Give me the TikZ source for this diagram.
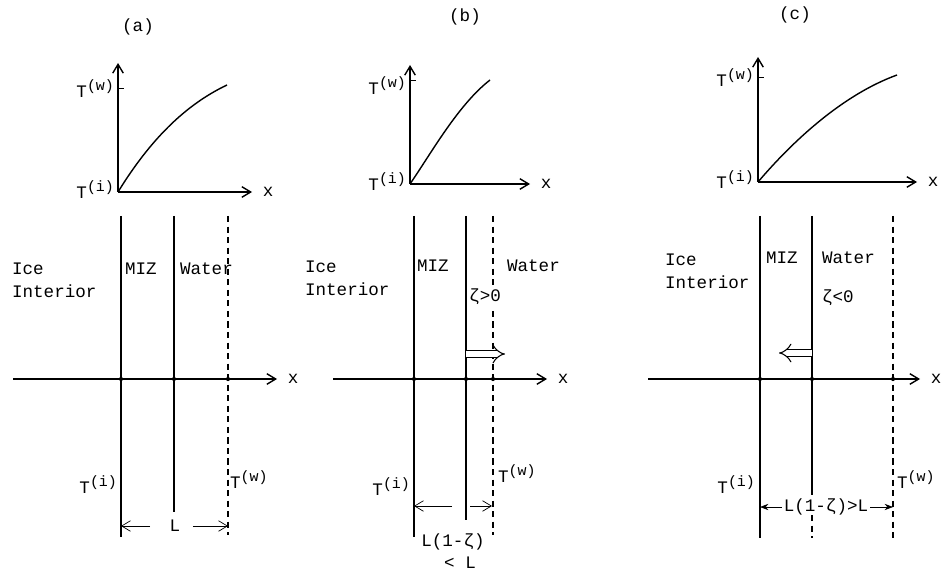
\documentclass[tikz,border=0pt]{standalone}
\usepackage{fontspec}
\setmainfont{Liberation Mono}
\usetikzlibrary{arrows.meta,positioning}
\newcommand{\Tsup}[1]{T\raisebox{0.75ex}{\fontsize{8.5}{9}\selectfont(#1)}}
\newcommand{\Tice}{\Tsup{i}}
\newcommand{\Twater}{\Tsup{w}}
\begin{document}
\begin{tikzpicture}[x=0.02cm,y=-0.02cm,>={Straight Barb[length=5pt,width=6pt]},
  font=\fontsize{10}{13}\selectfont,
  axis/.style={->,line width=0.8pt},
  wall/.style={line width=0.7pt},
  front/.style={line width=0.6pt,dash pattern=on 3.5pt off 2.5pt},
  curve/.style={line width=0.8pt},
  push/.style={double,double distance=3.2pt,line width=0.6pt,-{Implies[scale=1.4]}},
  lbl/.style={inner sep=1pt}]
  \useasboundingbox (0,0) rectangle (944,571);
  % (a)
  \node[lbl] (ta) at (138,27) {(a)};
  \coordinate (oa) at (118,192);
  \draw[axis] (oa) -- (118,63);
  \draw[axis] (oa) -- (252,192) coordinate (xa);
  \node[lbl,right=5pt of xa] (xla) {x};
  \draw[curve] (oa) .. controls (150,140) and (185,105) .. (227,85);
  \draw (118,88) -- (124,88);
  \node[lbl,anchor=east] (twa) at (116,89) {\Twater};
  \node[lbl,anchor=east] (tia) at (116,190) {\Tice};
  \draw[axis] (13,379) -- (277,379) coordinate (xa2);
  \node[lbl,right=5pt of xa2] (xla2) {x};
  \draw[wall] (121,216) -- (121,537);
  \draw[wall] (174,216) -- (174,512);
  \draw[front] (228,216) -- (228,535);
  \foreach \p in {121,174,228} \fill (\p,379) circle (1.2pt);
  \node[lbl,anchor=north west,align=left] (icea) at (10,261) {Ice\\Interior};
  \node[lbl,anchor=north west] (miza) at (123,261) {MIZ};
  \node[lbl,anchor=north west] (wata) at (178,261) {Water};
  \node[lbl,anchor=east] (tia2) at (119,485) {\Tice};
  \node[lbl,anchor=west] (twa2) at (228,480) {\Twater};
  \coordinate (la1) at (121,526);
  \coordinate (la3) at (228,526);
  \node[lbl] (La) at (175,526) {L};
  \draw[->,shorten <=10pt] (La) -- (la1);
  \draw[->,shorten <=6pt] (La) -- (la3);
  % (b)
  \node[lbl] (tb) at (465,17) {(b)};
  \coordinate (ob) at (410,184);
  \draw[axis] (ob) -- (410,65);
  \draw[axis] (ob) -- (530,184) coordinate (xb);
  \node[lbl,right=5pt of xb] (xlb) {x};
  \draw[curve] (ob) .. controls (432,152) and (458,105) .. (490,80);
  \draw (410,80) -- (416,80);
  \node[lbl,anchor=east] (twb) at (408,86) {\Twater};
  \node[lbl,anchor=east] (tib) at (408,182) {\Tice};
  \draw[axis] (333,379) -- (547,379) coordinate (xb2);
  \node[lbl,right=5pt of xb2] (xlb2) {x};
  \draw[wall] (414,216) -- (414,537);
  \draw[wall] (466,216) -- (466,520);
  \draw[front] (493,216) -- (493,535);
  \foreach \p in {414,466,493} \fill (\p,379) circle (1.2pt);
  \node[lbl,anchor=north west,align=left] (iceb) at (303,259) {Ice\\Interior};
  \node[lbl,anchor=north west] (mizb) at (415,258) {MIZ};
  \node[lbl,anchor=north west] (watb) at (505,258) {Water};
  \node[lbl,anchor=west,fill=white,inner sep=0.5pt] (zb) at (468,297) {ζ>0};
  \coordinate (pb1) at (466,354);
  \coordinate (pb2) at (505,354);
  \draw[push] (pb1) -- (pb2);
  \node[lbl,anchor=east] (tib2) at (412,487) {\Tice};
  \node[lbl,anchor=west] (twb2) at (496,474) {\Twater};
  \coordinate (lb0) at (452,506);
  \coordinate (lb1) at (414,506);
  \coordinate (lb2) at (470,506);
  \coordinate (lb3) at (492,506);
  \draw[->] (lb0) -- (lb1);
  \draw[->] (lb2) -- (lb3);
  \node[lbl] (Lb) at (453,542) {L(1-ζ)};
  \node[lbl] (ltb) at (460,563) {< L};
  % (c)
  \node[lbl] (tc) at (795,15) {(c)};
  \coordinate (oc) at (758,182);
  \draw[axis] (oc) -- (758,57);
  \draw[axis] (oc) -- (917,182) coordinate (xc);
  \node[lbl,right=5pt of xc] (xlc) {x};
  \draw[curve] (oc) .. controls (792,142) and (842,95) .. (897,75);
  \draw (758,77) -- (764,77);
  \node[lbl,anchor=east] (twc) at (756,78) {\Twater};
  \node[lbl,anchor=east] (tic) at (756,180) {\Tice};
  \draw[axis] (648,379) -- (920,379) coordinate (xc2);
  \node[lbl,right=5pt of xc2] (xlc2) {x};
  \draw[wall] (760,216) -- (760,538);
  \draw[wall] (812,216) -- (812,495);
  \draw[front] (812,515) -- (812,538);
  \draw[front] (893,216) -- (893,542);
  \foreach \p in {760,812,893} \fill (\p,379) circle (1.2pt);
  \node[lbl,anchor=north west,align=left] (icec) at (663,252) {Ice\\Interior};
  \node[lbl,anchor=north west] (mizc) at (764,250) {MIZ};
  \node[lbl,anchor=north west] (watc) at (820,250) {Water};
  \node[lbl,anchor=west] (zc) at (820,298) {ζ<0};
  \coordinate (pc1) at (812,353);
  \coordinate (pc2) at (779,353);
  \draw[push] (pc1) -- (pc2);
  \node[lbl,anchor=east] (tic2) at (757,485) {\Tice};
  \node[lbl,anchor=west] (twc2) at (895,480) {\Twater};
  \coordinate (lc1) at (760,507);
  \coordinate (lc3) at (893,507);
  \node[lbl] (Lc) at (826,507) {L(1-ζ)>L};
  \draw[-Stealth] (Lc) -- (lc1);
  \draw[-Stealth] (Lc) -- (lc3);
\end{tikzpicture}
\end{document}
